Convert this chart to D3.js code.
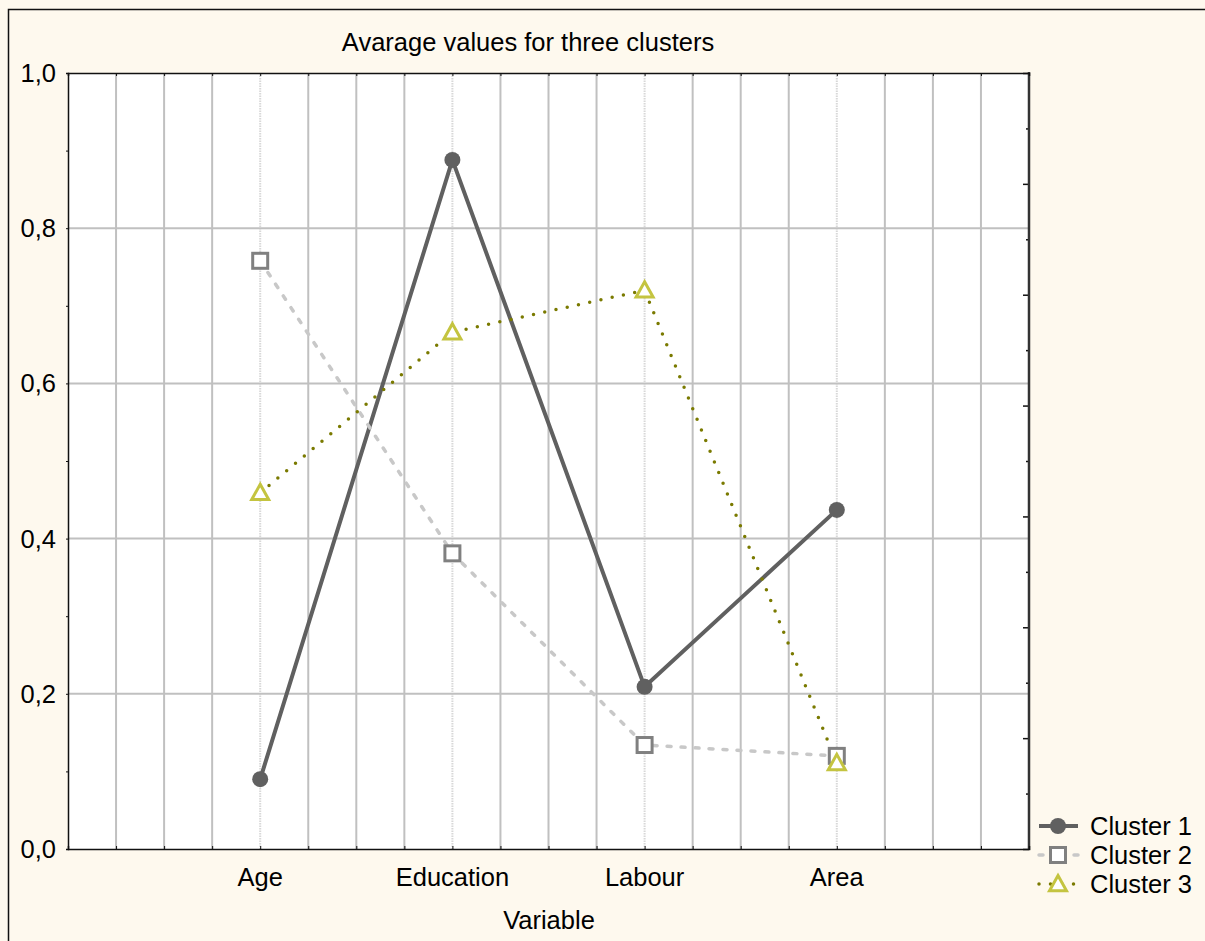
<!DOCTYPE html>
<html><head><meta charset="utf-8">
<script src="https://cdn.jsdelivr.net/npm/d3@7"></script>
<style>body{margin:0;background:#fef9ee;}svg{display:block;}text{font-family:Arial,"Liberation Sans",sans-serif;fill:#000;}</style>
</head><body>
<svg id="chart" width="1205" height="941"></svg>
<script>
const categories = ["Age", "Education", "Labour", "Area"];
const categoryPositions = [4, 8, 12, 16];
const cluster1 = [0.090, 0.888, 0.209, 0.437];
const cluster2 = [0.758, 0.381, 0.134, 0.120];
const cluster3 = [0.459, 0.666, 0.720, 0.111];
const seriesNames = ["Cluster 1", "Cluster 2", "Cluster 3"];
const yTicks = [0, 0.2, 0.4, 0.6, 0.8, 1.0];
const title = "Avarage values for three clusters";
const xTitle = "Variable";

const FS = 25.5;
const svg = d3.select("#chart");
const L = 68, R = 1029, T = 73, B = 849;
const x = d3.scaleLinear().domain([0, 20]).range([L, R]);
const y = d3.scaleLinear().domain([0, 1]).range([B, T]);
const yRight = d3.scaleLinear().domain([0, 14]).range([B, T]);

svg.append("rect").attr("x",0).attr("y",0).attr("width",1205).attr("height",941).attr("fill","#fef9ee");
svg.append("path").attr("d",`M8.5,941 V9.5 H1205`).attr("fill","none").attr("stroke","#111").attr("stroke-width",1.5);

svg.append("rect").attr("x",L).attr("y",T).attr("width",R-L).attr("height",B-T).attr("fill","#fff");

const gridX = d3.range(1, 20);
svg.append("g").selectAll("line").data(gridX).join("line")
  .attr("x1", d => x(d)).attr("x2", d => x(d)).attr("y1", T).attr("y2", B)
  .attr("stroke", d => categoryPositions.includes(d) ? "#d8d8d8" : "#c0c0c0")
  .attr("stroke-width", 2)
  .attr("stroke-dasharray", d => categoryPositions.includes(d) ? "1.5,1" : null);

svg.append("g").selectAll("line").data(yTicks.filter(d => d > 0 && d < 1)).join("line")
  .attr("x1", L).attr("x2", R).attr("y1", d => y(d)).attr("y2", d => y(d))
  .attr("stroke", "#c0c0c0").attr("stroke-width", 2);

const leftAxis = d3.axisLeft(y).tickValues(d3.range(0, 11).map(d => d/10)).tickSize(2).tickFormat("");
svg.append("g").attr("transform",`translate(${L},0)`).call(leftAxis)
  .call(g => g.select(".domain").attr("stroke","#111").attr("stroke-width",1.5))
  .call(g => g.selectAll(".tick line").attr("stroke","#111"));
svg.append("g").selectAll("text").data(yTicks).join("text")
  .attr("x", 56).attr("y", d => y(d)).attr("dy", "0.35em").attr("text-anchor","end")
  .attr("font-size", FS).text(d => d3.format(".1f")(d).replace(".", ","));

const rightAxis = d3.axisLeft(yRight).tickValues(d3.range(0, 15)).tickSize(0).tickFormat("");
const rg = svg.append("g").attr("transform",`translate(${R},0)`).call(rightAxis);
rg.select(".domain").remove();
rg.selectAll(".tick line").attr("x2", d => d % 2 === 0 ? -6 : -3).attr("stroke","#111").attr("stroke-width",1.5);
svg.append("line").attr("x1",R).attr("x2",R).attr("y1",T-1).attr("y2",B+1).attr("stroke","#333").attr("stroke-width",2.5);

const topAxis = d3.axisBottom(x).tickValues(gridX).tickSize(3).tickFormat("");
svg.append("g").attr("transform",`translate(0,${T})`).call(topAxis)
  .call(g => g.select(".domain").attr("stroke","#111").attr("stroke-width",1.5))
  .call(g => g.selectAll(".tick line").attr("stroke","#111"));
const bottomAxis = d3.axisTop(x).tickValues(gridX).tickSize(3).tickFormat("");
svg.append("g").attr("transform",`translate(0,${B})`).call(bottomAxis)
  .call(g => g.select(".domain").attr("stroke","#111").attr("stroke-width",1.5))
  .call(g => g.selectAll(".tick line").attr("stroke","#111"));

svg.append("g").selectAll("text").data(categories).join("text")
  .attr("x", (d,i) => x(categoryPositions[i])).attr("y", 886).attr("text-anchor","middle")
  .attr("font-size", FS).text(d => d);

svg.append("text").attr("x", 549).attr("y", 929).attr("text-anchor","middle").attr("font-size",FS).text(xTitle);
svg.append("text").attr("x", 528).attr("y", 51).attr("text-anchor","middle").attr("font-size",FS).text(title);

const styles = [
  {line:"#606060", width:4, dash:null, cap:"butt", marker:"circle"},
  {line:"#c8c8c8", width:3.5, dash:"4,10", cap:"round", marker:"square"},
  {line:"#7a7a00", width:3.5, dash:"0,11.5", cap:"round", marker:"triangle"}
];
const allSeries = [cluster1, cluster2, cluster3];
const lineGen = d3.line().x((d,i) => x(categoryPositions[i])).y(d => y(d));

function drawMarker(g, type, cx, cy) {
  if (type === "circle") {
    g.append("circle").attr("cx",cx).attr("cy",cy).attr("r",8).attr("fill","#606060");
  } else if (type === "square") {
    g.append("rect").attr("x",cx-7.5).attr("y",cy-7.5).attr("width",15).attr("height",15)
      .attr("fill","#fff").attr("stroke","#808080").attr("stroke-width",3);
  } else {
    const s = 8.5;
    g.append("path").attr("d",`M${cx},${cy-s} L${cx+s},${cy+s*0.8} L${cx-s},${cy+s*0.8} Z`)
      .attr("fill","#fff").attr("stroke","#c4c440").attr("stroke-width",3);
  }
}

allSeries.forEach((vals, si) => {
  const st = styles[si];
  svg.append("path").datum(vals).attr("d", lineGen).attr("fill","none")
    .attr("stroke", st.line).attr("stroke-width", st.width)
    .attr("stroke-dasharray", st.dash).attr("stroke-linecap", st.cap);
});
allSeries.forEach((vals, si) => {
  const g = svg.append("g");
  vals.forEach((v, i) => drawMarker(g, styles[si].marker, x(categoryPositions[i]), y(v)));
});

const legY = [826, 855, 884];
seriesNames.forEach((name, i) => {
  const st = styles[i];
  const g = svg.append("g");
  g.append("line").attr("x1",1039).attr("x2",1078).attr("y1",legY[i]).attr("y2",legY[i])
    .attr("stroke",st.line).attr("stroke-width",st.width)
    .attr("stroke-dasharray", i===1 ? "4,31" : (i===2 ? "0,11.5" : null))
    .attr("stroke-linecap", st.cap);
  drawMarker(g, st.marker, 1058, legY[i]);
  g.append("text").attr("x",1090).attr("y",legY[i]).attr("dy","0.35em").attr("font-size",FS).text(name);
});
</script>
</body></html>
